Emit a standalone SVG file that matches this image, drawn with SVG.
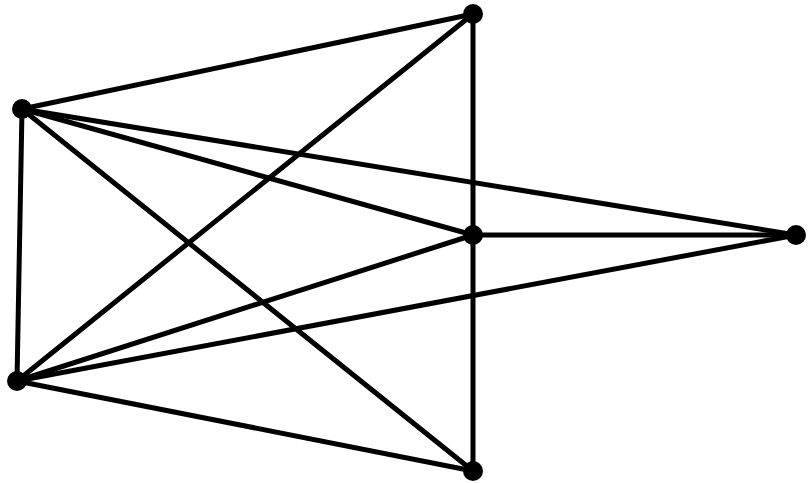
<svg xmlns="http://www.w3.org/2000/svg" width="809" height="483" viewBox="0 0 809 483">
<style>
.e{stroke:#000;stroke-width:5;stroke-linecap:round;fill:none}
.n{fill:#000}
</style>
<rect width="809" height="483" fill="#fff"/>
<g id="edges">
<line class="e" x1="22" y1="109" x2="473" y2="14"/>
<line class="e" x1="473" y1="14" x2="17" y2="381"/>
<line class="e" x1="473" y1="14" x2="473" y2="235"/>
<line class="e" x1="473" y1="235" x2="473" y2="471"/>
<line class="e" x1="22" y1="109" x2="473" y2="235"/>
<line class="e" x1="22" y1="109" x2="796" y2="235"/>
<line class="e" x1="22" y1="109" x2="473" y2="471"/>
<line class="e" x1="22" y1="109" x2="17" y2="381"/>
<line class="e" x1="473" y1="235" x2="796" y2="235"/>
<line class="e" x1="17" y1="381" x2="473" y2="235"/>
<line class="e" x1="17" y1="381" x2="796" y2="235"/>
<line class="e" x1="17" y1="381" x2="473" y2="471"/>
</g>
<g id="A"><circle class="n" cx="473" cy="14" r="10"/></g>
<g id="B"><circle class="n" cx="22" cy="109" r="10"/></g>
<g id="C"><circle class="n" cx="473" cy="235" r="10"/></g>
<g id="D"><circle class="n" cx="796" cy="235" r="10"/></g>
<g id="E"><circle class="n" cx="17" cy="381" r="10"/></g>
<g id="F"><circle class="n" cx="473" cy="471" r="10"/></g>
</svg>
